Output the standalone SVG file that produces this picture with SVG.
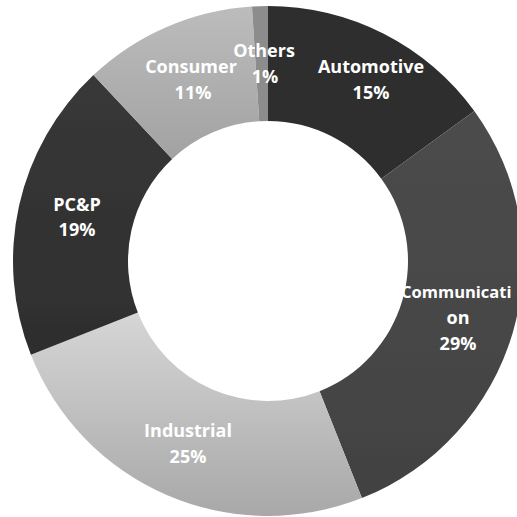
<svg xmlns="http://www.w3.org/2000/svg" width="517" height="517" viewBox="0 0 517 517">
  <style>
    .lbl { font-family: "Open Sans", "Liberation Sans", sans-serif; font-weight: 700; font-size: 18px; fill: #ffffff; text-anchor: middle; }
  </style>
  <defs>
    <linearGradient id="gInd" x1="0" y1="0" x2="0" y2="1">
      <stop offset="0" stop-color="#d6d6d6"/>
      <stop offset="1" stop-color="#a8a8a8"/>
    </linearGradient>
    <linearGradient id="gCon" x1="0" y1="0" x2="0" y2="1">
      <stop offset="0" stop-color="#bcbcbc"/>
      <stop offset="1" stop-color="#a2a2a2"/>
    </linearGradient>
    <linearGradient id="gPcp" x1="0" y1="0" x2="0" y2="1">
      <stop offset="0" stop-color="#383838"/>
      <stop offset="1" stop-color="#2e2e2e"/>
    </linearGradient>
    <linearGradient id="gCom" x1="0" y1="0" x2="0" y2="1">
      <stop offset="0" stop-color="#4c4c4c"/>
      <stop offset="1" stop-color="#424242"/>
    </linearGradient>
    <filter id="soft" x="-5%" y="-5%" width="110%" height="110%">
      <feGaussianBlur stdDeviation="0.6"/>
    </filter>
  </defs>
  <rect width="517" height="517" fill="#ffffff"/>

  <g id="automotive">
    <path d="M268,6 A255,255 0 0 1 474.30,111.11 L381.26,178.71 A140,140 0 0 0 268,121 Z" fill="#2d2d2d" filter="url(#soft)"/>
    <text class="lbl" x="371" y="73">Automotive</text>
    <text class="lbl" x="371" y="99">15%</text>
  </g>

  <g id="communication">
    <path d="M474.30,111.11 A255,255 0 0 1 361.87,498.09 L319.54,391.17 A140,140 0 0 0 381.26,178.71 Z" fill="url(#gCom)" filter="url(#soft)"/>
    <text class="lbl" x="401" y="298" style="text-anchor:start;font-size:16.5px">Communicati</text>
    <text class="lbl" x="458" y="324">on</text>
    <text class="lbl" x="458" y="350">29%</text>
  </g>

  <g id="industrial">
    <path d="M361.87,498.09 A255,255 0 0 1 30.91,354.87 L137.83,312.54 A140,140 0 0 0 319.54,391.17 Z" fill="url(#gInd)" filter="url(#soft)"/>
    <text class="lbl" x="188" y="437">Industrial</text>
    <text class="lbl" x="188" y="463">25%</text>
  </g>

  <g id="pcp">
    <path d="M30.91,354.87 A255,255 0 0 1 93.44,75.11 L172.16,158.94 A140,140 0 0 0 137.83,312.54 Z" fill="url(#gPcp)" filter="url(#soft)"/>
    <text class="lbl" x="77" y="211">PC&amp;P</text>
    <text class="lbl" x="77" y="236">19%</text>
  </g>

  <g id="consumer">
    <path d="M93.44,75.11 A255,255 0 0 1 251.99,6.50 L259.21,121.28 A140,140 0 0 0 172.16,158.94 Z" fill="url(#gCon)" filter="url(#soft)"/>
    <text class="lbl" x="191" y="73">Consumer</text>
    <text class="lbl" x="193" y="99">11%</text>
  </g>

  <g id="others">
    <path d="M251.99,6.50 A255,255 0 0 1 268,6 L268,121 A140,140 0 0 0 259.21,121.28 Z" fill="#8c8c8c" filter="url(#soft)"/>
    <text class="lbl" x="264" y="57">Others</text>
    <text class="lbl" x="265" y="83">1%</text>
  </g>
</svg>
